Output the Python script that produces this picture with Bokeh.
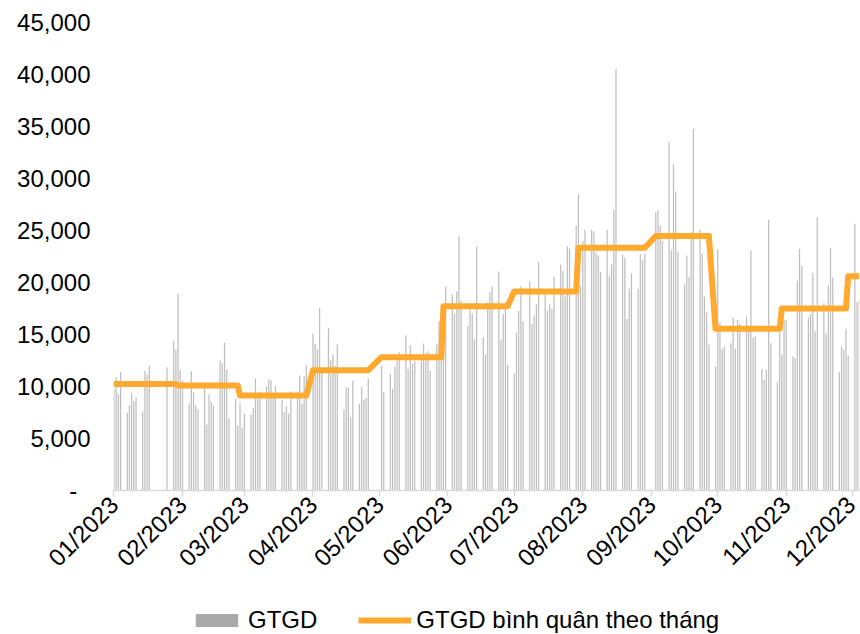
import math
import pandas as pd
from bokeh.plotting import figure
from bokeh.layouts import column
from bokeh.models import (ColumnDataSource, Range1d, FixedTicker, Legend, LegendItem,
                          DatetimeTickFormatter, NumeralTickFormatter)
from bokeh.embed import file_html
from bokeh.resources import INLINE

YEAR = 2023

# trading days (day of month) for each month
days_jan = [3, 4, 5, 6, 9, 10, 11, 12, 13, 16, 17, 18, 19, 27, 30, 31]
days_feb = [1, 2, 3, 6, 7, 8, 9, 10, 13, 14, 15, 16, 17, 20, 21, 22, 23, 24, 27, 28]
days_mar = [1, 2, 3, 6, 7, 8, 9, 10, 13, 14, 15, 16, 17, 20, 21, 22, 23, 24, 27, 28, 29, 30, 31]
days_apr = [3, 4, 5, 6, 7, 10, 11, 12, 13, 14, 17, 18, 19, 20, 21, 24, 25, 26, 27, 28]
days_may = [4, 5, 8, 9, 10, 11, 12, 15, 16, 17, 18, 19, 22, 23, 24, 25, 26, 29, 30, 31]
days_jun = [1, 2, 5, 6, 7, 8, 9, 12, 13, 14, 15, 16, 19, 20, 21, 22, 23, 26, 27, 28, 29, 30]
days_jul = [3, 4, 5, 6, 7, 10, 11, 12, 13, 14, 17, 18, 19, 20, 21, 24, 25, 26, 27, 28, 31]
days_aug = [1, 2, 3, 4, 7, 8, 9, 10, 11, 14, 15, 16, 17, 18, 21, 22, 23, 24, 25, 28, 29, 30, 31]
days_sep = [5, 6, 7, 8, 11, 12, 13, 14, 15, 18, 19, 20, 21, 22, 25, 26, 27, 28, 29]
days_oct = [2, 3, 4, 5, 6, 9, 10, 11, 12, 13, 16, 17, 18, 19, 20, 23, 24, 25, 26, 27, 30, 31]
days_nov = [1, 2, 3, 6, 7, 8, 9, 10, 13, 14, 15, 16, 17, 20, 21, 22, 23, 24, 27, 28, 29, 30]
days_dec = [1, 4, 5, 6]

# daily GTGD values
gtgd_jan = [9700, 10900, 9300, 11400, 7500, 8200, 9400, 8600, 9000, 7600, 11500, 11150,
            12000, 11850, 14400, 13550]
gtgd_feb = [18900, 11600, 10580, 8400, 11470, 9420, 8170, 7820, 10400, 6340, 9230, 8500,
            8170, 12500, 12240, 14200, 11630, 6950, 8810, 6250]
gtgd_mar = [8400, 5990, 7370, 7280, 7980, 10770, 8900, 9500, 10000, 10670, 10580, 9000,
            10070, 8720, 7530, 8080, 7370, 9520, 9520, 11060, 8330, 11020, 12020]
gtgd_apr = [15070, 14100, 13590, 17570, 11380, 15600, 12560, 13080, 12000, 14070, 7790,
            9930, 9870, 7050, 10580, 8330, 9930, 8750, 8910, 10770]
gtgd_may = [12000, 9500, 11220, 9770, 11920, 12500, 13300, 14900, 11700, 13940, 12180,
            12500, 12500, 14100, 13240, 13400, 11540, 14100, 16280, 14500]
gtgd_jun = [16500, 19600, 18850, 17050, 19170, 24420, 18270, 15830, 17370, 17000, 14550,
            23460, 14740, 13080, 18110, 19070, 19620, 21060, 14550, 16990, 17950, 12080]
gtgd_jul = [11220, 15160, 17250, 19650, 16280, 20130, 16000, 16830, 17880, 21950, 18850,
            17250, 17880, 17470, 20580, 21730, 21150, 18650, 23490, 23240, 25480]
gtgd_aug = [28530, 19710, 24000, 25070, 25070, 24930, 22820, 22600, 21000, 25070, 20580,
            21730, 27000, 40550, 22690, 22370, 16510, 19390, 20900, 19390, 22750, 22180, 22750]
gtgd_sep = [26760, 27000, 25480, 24000, 33490, 23140, 31350, 28750, 22920, 19810, 22600,
            20510, 24840, 34770, 25070, 22820, 18650, 17150, 14040]
gtgd_oct = [11920, 23170, 16190, 13620, 13850, 14170, 16600, 13620, 16410, 16020, 16730,
            15500, 23080, 14740, 14810, 11700, 10640, 11600, 26030, 14170, 10420, 15220]
gtgd_nov = [13080, 16410, 16410, 12880, 12750, 20190, 23240, 21630, 16670, 17000, 20930,
            15320, 26280, 18010, 15130, 19710, 23330, 20510, 11380, 13850, 13530, 15550]
gtgd_dec = [12980, 25650, 18110, 18330]

# monthly average (orange line)
avg_monthly = [10250, 10100, 9130, 11570, 12820, 17720, 19130, 23340, 24460, 15550, 17500, 20600]

tick_labels = ["01/2023", "02/2023", "03/2023", "04/2023", "05/2023", "06/2023",
               "07/2023", "08/2023", "09/2023", "10/2023", "11/2023", "12/2023"]
y_ticks = [0, 5000, 10000, 15000, 20000, 25000, 30000, 35000, 40000, 45000]
legend_labels = ["GTGD", "GTGD bình quân theo tháng"]

all_days = [days_jan, days_feb, days_mar, days_apr, days_may, days_jun,
            days_jul, days_aug, days_sep, days_oct, days_nov, days_dec]
all_vals = [gtgd_jan, gtgd_feb, gtgd_mar, gtgd_apr, gtgd_may, gtgd_jun,
            gtgd_jul, gtgd_aug, gtgd_sep, gtgd_oct, gtgd_nov, gtgd_dec]

dates, vals, avgs = [], [], []
for m in range(12):
    for d, v in zip(all_days[m], all_vals[m]):
        dates.append(pd.Timestamp(YEAR, m + 1, d))
        vals.append(v)
        avgs.append(avg_monthly[m])

src = ColumnDataSource(dict(date=dates, gtgd=vals, avg=avgs))

DAY = 86400000.0
def ms(ts):
    return ts.value / 1e6

x_start = ms(dates[0]) - 0.2 * DAY
x_end = x_start + 337.3 * DAY

FONT = "Liberation Sans"
FS = "24px"
BAR_COLOR = "#BDBDBD"
KEY_COLOR = "#A9A9A9"
LINE_COLOR = "#FFA92E"

p = figure(width=860, height=606, x_axis_type="datetime", output_backend="svg",
           toolbar_location=None, x_range=Range1d(x_start, x_end),
           y_range=Range1d(0, 45000), min_border_left=113, min_border_right=1,
           min_border_top=22, min_border_bottom=116, outline_line_color=None)
p.grid.visible = False

p.vbar(x="date", top="gtgd", width=0.55 * DAY, source=src,
       fill_color=BAR_COLOR, line_color=None)
p.line(x="date", y="avg", source=src, line_color=LINE_COLOR, line_width=6,
       line_join="round")

tick_ms = [ms(pd.Timestamp(YEAR, m + 1, 3)) for m in range(12)]
xa = p.xaxis[0]
xa.ticker = FixedTicker(ticks=tick_ms)
xa.formatter = DatetimeTickFormatter(days="%m/%Y", months="%m/%Y", years="%m/%Y")
xa.major_label_overrides = {t: lbl for t, lbl in zip(tick_ms, tick_labels)}
xa.major_label_orientation = math.pi / 4
xa.axis_line_color = "#D9D9D9"
xa.axis_line_width = 1.5
xa.major_tick_line_color = "#D9D9D9"
xa.major_tick_line_width = 1.5
xa.major_tick_in = 0
xa.major_tick_out = 6
xa.minor_tick_line_color = None
xa.major_label_text_font = FONT
xa.major_label_text_font_size = FS
xa.major_label_text_color = "#000000"
xa.major_label_standoff = 4

ya = p.yaxis[0]
ya.ticker = FixedTicker(ticks=y_ticks)
ya.formatter = NumeralTickFormatter(format="0,0")
ya.major_label_overrides = {0: "-\u2007"}
ya.axis_line_color = None
ya.major_tick_line_color = None
ya.major_tick_in = 0
ya.major_tick_out = 0
ya.minor_tick_line_color = None
ya.major_label_standoff = 23
ya.major_label_text_font = FONT
ya.major_label_text_font_size = FS
ya.major_label_text_color = "#000000"

# legend strip below the chart (key glyphs hold no drawable values)
NAN = float("nan")
lg = figure(width=860, height=28, output_backend="svg", toolbar_location=None,
            x_range=Range1d(0, 1), y_range=Range1d(0, 1), min_border=0,
            x_axis_location=None, y_axis_location=None, outline_line_color=None)
lg.grid.visible = False
key_bar = lg.vbar(x=[NAN], top=[NAN], width=1, fill_color=KEY_COLOR, line_color=None)
key_line = lg.line(x=[NAN, NAN], y=[NAN, NAN], line_color=LINE_COLOR, line_width=6)
legend = Legend(items=[LegendItem(label=legend_labels[0], renderers=[key_bar]),
                       LegendItem(label=legend_labels[1], renderers=[key_line])],
                orientation="horizontal", location=(77, 0),
                glyph_width=53, glyph_height=16, label_standoff=5, spacing=41,
                padding=0, margin=0, border_line_color=None, background_fill_alpha=0,
                label_text_font=FONT, label_text_font_size=FS,
                label_text_color="#000000")
lg.add_layout(legend)

layout = column(p, lg, spacing=0)
open("out.html", "w").write(file_html(layout, INLINE))
